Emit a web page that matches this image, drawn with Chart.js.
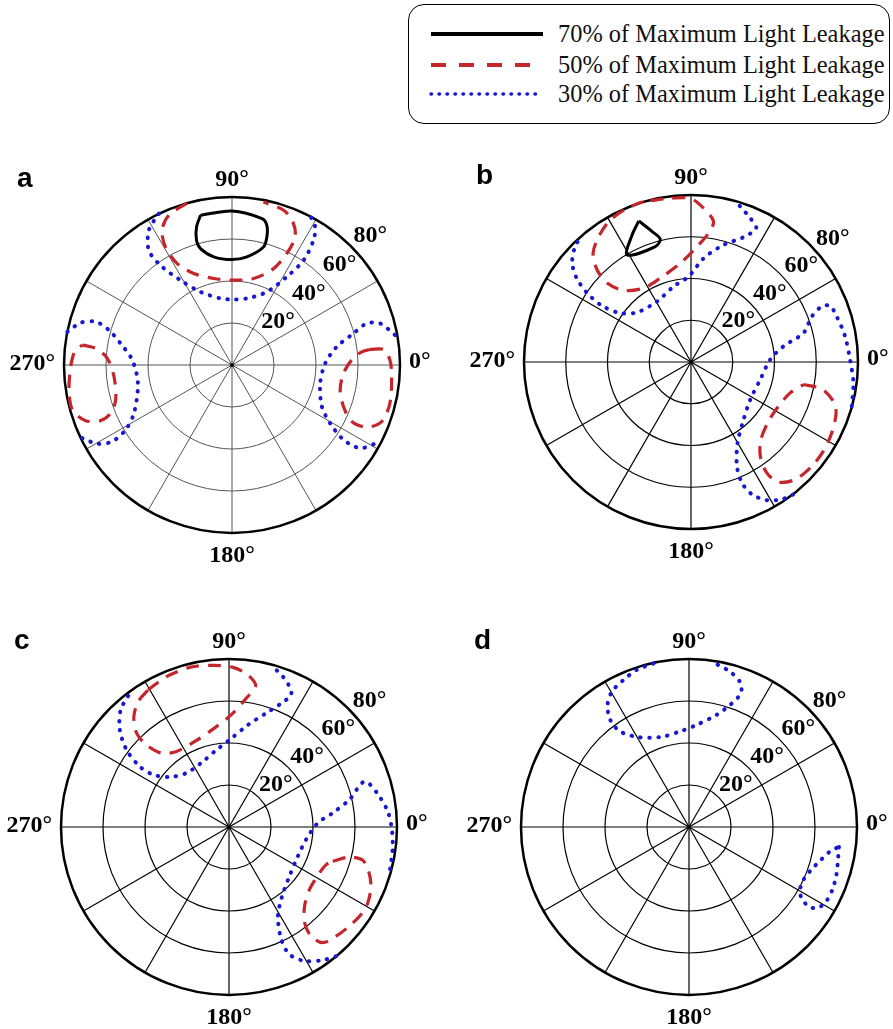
<!DOCTYPE html>
<html>
<head>
<meta charset="utf-8">
<script src="https://cdn.jsdelivr.net/npm/chart.js@4.4.1/dist/chart.umd.min.js"></script>
<style>
  html, body { margin: 0; padding: 0; background: #fff; }
  body { position: relative; width: 893px; height: 1029px; overflow: hidden;
         font-family: "Liberation Serif", "Times New Roman", serif; }
  canvas { position: absolute; }
  #legend { position: absolute; left: 408px; top: 4px; width: 482px; height: 120px;
            border: 1.6px solid #000; border-radius: 16px; box-sizing: border-box; }
  .row { position: absolute; left: 0; width: 100%; height: 26px; }
  .row svg { position: absolute; left: 20px; top: 0; }
  .row span { position: absolute; left: 149px; top: 0; line-height: 26px;
              font-size: 24.4px; white-space: nowrap; color: #111; }
</style>
</head>
<body>
<div id="legend"></div>
<canvas id="pa" width="446" height="430" style="left:0;top:150px"></canvas>
<canvas id="pb" width="447" height="430" style="left:446px;top:150px"></canvas>
<canvas id="pc" width="446" height="429" style="left:0;top:600px"></canvas>
<canvas id="pd" width="447" height="429" style="left:446px;top:600px"></canvas>
<script>
/* ── Data: contour points as [x, y] in projected degrees (x = θ·cosφ, y = θ·sinφ) ── */
const LEVELS      = ['70% of Maximum Light Leakage', '50% of Maximum Light Leakage', '30% of Maximum Light Leakage'];
const RINGS       = [20, 40, 60, 80];
const RING_LABELS = ['20°', '40°', '60°', '80°'];
const SPOKES      = [0, 30, 60, 90, 120, 150, 180, 210, 240, 270, 300, 330];
const AZ_DIRS     = [0, 90, 180, 270];
const AZ_LABELS   = ['0°', '90°', '270°', '180°'];
const PANELS      = ['a', 'b', 'c', 'd'];

// panel a
const A70       = [[-15.0,71.3],[0,73.3],[14.3,69.7],[16.6,66.5],[16.6,61.0],[15.0,56.2],[7.1,51.5],[0,50.2],[-8.7,51.5],[-15.0,55.4],[-16.9,59.4],[-16.9,65.7]];
const A50_TOP   = [[-21.4,77.1],[-30.1,71.3],[-33.3,64.2],[-31.7,56.2],[-26.1,48.3],[-18.2,43.6],[-8.7,41.2],[0,40.4],[10.3,41.2],[19.8,45.9],[26.1,53.1],[30.1,61.0],[29.0,68.1],[24.6,73.7],[15.0,77.6]];
const A50_RIGHT = [[65.7,7.4],[72.1,7.4],[75.2,2.4],[76.0,-5.5],[75.2,-18.2],[71.3,-26.9],[64.2,-29.6],[57.0,-26.9],[53.1,-19.8],[51.5,-11.9],[53.1,-4.0],[57.0,2.4],[61.8,6.3]];
const A50_LEFT  = [[-71.3,9.5],[-64.9,7.9],[-59.4,3.2],[-56.2,-5.5],[-55.4,-16.6],[-57.8,-23.0],[-62.6,-26.5],[-69.7,-26.5],[-76.0,-21.4],[-77.6,-11.9],[-76.8,-0.8],[-74.9,6.3]];
const A30_TOP   = [[-34.8,72.1],[-39.6,64.2],[-39.6,54.6],[-34.1,47.5],[-24.6,40.4],[-15.0,34.8],[-5.5,31.7],[0,31.2],[7.1,31.7],[16.6,34.8],[26.1,42.0],[34.1,49.9],[38.8,59.4],[39.6,65.7],[37.5,70.6]];
const A30_RIGHT = [[77.6,14.3],[70.5,19.8],[64.2,19.8],[57.8,15.0],[49.9,8.7],[44.4,0.8],[42.0,-8.7],[42.8,-19.8],[46.7,-27.7],[53.1,-35.6],[61.0,-39.6],[68.9,-37.2]];
const A30_LEFT  = [[-78.4,15.8],[-72.1,20.1],[-64.9,20.6],[-58.6,16.6],[-53.1,10.3],[-47.5,2.4],[-44.8,-8.7],[-46.7,-23.0],[-50.7,-30.9],[-57.0,-36.4],[-64.2,-37.5],[-71.3,-34.8]];

// panel b
const B70       = [[-25.0,67.6],[-18.6,62.5],[-14.7,58.8],[-17.1,55.3],[-30.6,51.3],[-28.2,60.9]];
const B50_TOP   = [[-19.4,77.3],[-9.9,78.4],[-0.3,78.4],[6.1,73.6],[10.8,67.3],[8.4,61.7],[2.9,55.3],[-5.1,47.3],[-14.7,40.2],[-22.6,35.4],[-32.2,34.3],[-40.2,37.8],[-45.0,44.2],[-46.9,52.1],[-44.2,60.1],[-38.6,68.1],[-30.6,73.6],[-24.2,76.4]];
const B30_TOP   = [[23.3,74.8],[28.4,68.9],[31.2,64.1],[25.2,59.8],[15.6,56.1],[6.1,49.7],[-1.1,41.0],[-8.3,36.2],[-16.3,29.0],[-25.8,23.8],[-33.8,23.4],[-42.6,26.9],[-49.7,33.0],[-54.8,40.2],[-56.9,47.3],[-55.8,54.5],[-52.4,60.9]];
const B30_RIGHT = [[77.0,-21.2],[77.8,-10.0],[76.2,1.1],[73.8,12.3],[69.8,21.8],[66.6,26.9],[62.6,26.6],[57.9,21.8],[53.9,13.9],[44.3,7.5],[37.9,1.1],[33.2,-8.4],[28.4,-18.0],[25.2,-27.6],[22.3,-38.7],[22.0,-49.9],[24.4,-57.9],[29.2,-63.4],[36.3,-66.2],[43.5,-65.8],[49.1,-63.4]];
const B50_RIGHT = [[53.9,-10.8],[62.6,-12.9],[68.2,-18.8],[69.5,-24.4],[67.4,-34.0],[63.4,-42.7],[57.9,-49.9],[49.9,-56.3],[41.9,-57.5],[36.3,-53.1],[33.2,-45.1],[33.5,-37.1],[37.1,-28.4],[41.9,-21.2],[47.5,-14.8]];

// panel c
const C50_TOP   = [[-38.5,65.3],[-29.8,71.6],[-18.7,76.0],[-7.6,77.0],[1.9,76.0],[9.0,72.4],[12.7,67.2],[8.2,61.3],[1.9,54.2],[-6.0,47.8],[-15.5,41.2],[-25.0,36.0],[-32.2,35.2],[-39.3,39.1],[-44.0,44.7],[-45.3,52.6],[-43.2,59.7]];
const C30_TOP   = [[-48.0,62.4],[-51.6,55.8],[-52.0,46.3],[-48.8,36.8],[-42.5,28.8],[-36.1,24.9],[-28.2,23.8],[-20.3,25.7],[-12.4,31.2],[-6.0,36.7],[0.3,41.5],[9.0,48.6],[17.7,54.2],[24.9,58.9],[29.6,62.9],[28.8,66.8],[25.7,71.6],[21.7,75.6]];
const C30_RIGHT = [[76.7,-20.0],[77.9,-10.8],[77.6,-1.3],[75.6,7.4],[71.6,14.6],[66.8,20.6],[64.0,21.4],[61.3,18.5],[57.3,13.0],[49.4,6.7],[42.3,1.9],[36.7,-6.0],[32.8,-13.9],[28.8,-23.4],[25.3,-32.9],[23.3,-42.5],[24.9,-53.5],[28.8,-60.7],[36.0,-63.8],[44.7,-63.4],[52.3,-61.1]];
const C50_RIGHT = [[49.4,-16.3],[57.3,-14.3],[63.7,-15.8],[66.5,-21.1],[67.6,-28.2],[66.1,-36.1],[62.9,-41.7],[57.3,-47.2],[51.0,-52.0],[44.7,-55.1],[39.1,-52.0],[36.0,-45.6],[36.0,-37.7],[38.3,-29.8],[43.1,-21.9],[46.3,-17.9]];

// panel d
const D30_TOP   = [[-16.9,77.9],[-24.9,74.8],[-31.2,70.0],[-36.7,64.5],[-38.8,58.1],[-37.5,51.0],[-32.8,45.5],[-24.1,42.8],[-13.8,42.8],[-4.3,45.5],[3.6,48.6],[13.1,53.4],[19.5,58.1],[23.4,61.8],[25.0,65.3],[24.2,69.2],[19.5,74.0],[13.1,77.6]];
const D30_RIGHT = [[71.4,-9.5],[71.0,-14.7],[70.2,-22.7],[68.3,-29.8],[65.4,-35.3],[61.5,-38.5],[57.2,-38.0],[54.0,-34.5],[52.7,-30.6],[54.6,-25.0],[58.3,-20.3],[63.0,-15.5],[67.8,-11.1]];

/* ── Styles ─────────────────────────────────────────────────────────────── */
const STYLE = {
  70: { color: '#000000', width: 3,   dash: [],         cap: 'butt' },
  50: { color: '#c4262c', width: 3.2, dash: [13, 9],    cap: 'butt' },
  30: { color: '#1818d0', width: 4,   dash: [0.5, 8.5], cap: 'round' },
};

function contour(pts, level, closed) {
  const s = STYLE[level];
  const data = pts.map(p => ({ x: p[0], y: p[1] }));
  if (closed) data.push({ x: pts[0][0], y: pts[0][1] });
  return {
    data, showLine: true, fill: false, pointRadius: 0, tension: 0.3,
    borderColor: s.color, borderWidth: s.width, borderDash: s.dash, borderCapStyle: s.cap,
  };
}

/* ── Polar grid + labels drawn through the linear scales ─────────────────── */
const polarGrid = {
  id: 'polarGrid',
  beforeDatasetsDraw(chart, args, o) {
    const { ctx, scales: { x, y } } = chart;
    const cx = x.getPixelForValue(0), cy = y.getPixelForValue(0);
    const R  = x.getPixelForValue(80) - cx;
    const px = (deg, r) => [x.getPixelForValue(r * Math.cos(deg * Math.PI / 180)),
                            y.getPixelForValue(r * Math.sin(deg * Math.PI / 180))];
    ctx.save();
    ctx.strokeStyle = o.gridColor;
    ctx.lineWidth = o.gridWidth;
    RINGS.slice(0, -1).forEach(v => {
      ctx.beginPath();
      ctx.arc(cx, cy, x.getPixelForValue(v) - cx, 0, Math.PI * 2);
      ctx.stroke();
    });
    SPOKES.forEach(a => {
      const [ex, ey] = px(a, 80);
      ctx.beginPath(); ctx.moveTo(cx, cy); ctx.lineTo(ex, ey); ctx.stroke();
    });
    ctx.fillStyle = '#000';
    ctx.beginPath(); ctx.arc(cx, cy, 2, 0, Math.PI * 2); ctx.fill();
    ctx.strokeStyle = '#000';
    ctx.lineWidth = 2.5;
    ctx.beginPath(); ctx.arc(cx, cy, R, 0, Math.PI * 2); ctx.stroke();

    // ring labels
    ctx.font = 'bold 24px "Liberation Serif", serif';
    ctx.textAlign = 'center'; ctx.textBaseline = 'middle';
    RINGS.forEach((v, i) => {
      const [lx, ly] = px(o.labelAngle, v + 10);
      ctx.fillText(RING_LABELS[i], lx, ly);
    });

    // azimuth labels
    AZ_DIRS.forEach((d, i) => {
      const t = AZ_LABELS[i];
      if (d === 0)        { ctx.textAlign = 'left';   ctx.textBaseline = 'middle';     ctx.fillText(t, cx + R + 9, cy - 3); }
      else if (d === 90)  { ctx.textAlign = 'center'; ctx.textBaseline = 'alphabetic'; ctx.fillText(t, cx, cy - R - 11); }
      else if (d === 180) { ctx.textAlign = 'right';  ctx.textBaseline = 'middle';     ctx.fillText(t, cx - R - 9, cy - 1); }
      else                { ctx.textAlign = 'center'; ctx.textBaseline = 'alphabetic'; ctx.fillText(t, cx, cy + R + 29); }
    });

    // panel letter
    ctx.font = 'bold 28px "Liberation Sans", Arial, sans-serif';
    ctx.textAlign = 'left'; ctx.textBaseline = 'alphabetic';
    ctx.fillText(o.letter, cx - 215, cy - 178);
    ctx.restore();
  },
};

function makePanel(id, letter, cx, cy, R, datasets, gridColor, labelAngle) {
  const cv = document.getElementById(id);
  const left = cv.offsetLeft, top = cv.offsetTop;
  const padding = {
    left: cx - R - left, top: cy - R - top,
    right: left + cv.width - (cx + R), bottom: top + cv.height - (cy + R),
  };
  new Chart(cv.getContext('2d'), {
    type: 'scatter',
    data: { datasets },
    options: {
      responsive: false, animation: false, devicePixelRatio: 1, events: [],
      layout: { padding },
      scales: {
        x: { type: 'linear', min: -80, max: 80, display: false },
        y: { type: 'linear', min: -80, max: 80, display: false },
      },
      plugins: {
        legend: { display: false }, tooltip: { enabled: false },
        polarGrid: { letter, gridColor, gridWidth: gridColor === '#000' ? 1.2 : 1, labelAngle },
      },
    },
    plugins: [polarGrid],
  });
}

makePanel('pa', PANELS[0], 232, 365, 168, [
  contour(A30_TOP, 30), contour(A30_RIGHT, 30), contour(A30_LEFT, 30),
  contour(A50_TOP, 50), contour(A50_RIGHT, 50, true), contour(A50_LEFT, 50, true),
  contour(A70, 70, true),
], '#555', 43);

makePanel('pb', PANELS[1], 691, 362, 167, [
  contour(B30_TOP, 30), contour(B30_RIGHT, 30),
  contour(B50_TOP, 50, true), contour(B50_RIGHT, 50, true),
  contour(B70, 70, true),
], '#000', 41);

makePanel('pc', PANELS[2], 229, 827, 168, [
  contour(C30_TOP, 30), contour(C30_RIGHT, 30),
  contour(C50_TOP, 50, true), contour(C50_RIGHT, 50, true),
], '#000', 42);

makePanel('pd', PANELS[3], 689, 827, 168, [
  contour(D30_TOP, 30), contour(D30_RIGHT, 30, true),
], '#000', 42);

/* ── Legend ─────────────────────────────────────────────────────────────── */
const legend = document.getElementById('legend');
const ROW_Y = [16, 47, 76];
[70, 50, 30].forEach((lv, i) => {
  const s = STYLE[lv];
  const row = document.createElement('div');
  row.className = 'row';
  row.style.top = ROW_Y[i] + 'px';
  const dash = lv === 50 ? '15 13' : lv === 30 ? '0.5 7.5' : 'none';
  const cap = lv === 30 ? 'round' : 'butt';
  const w = lv === 30 ? 3.5 : 4;
  row.innerHTML =
    `<svg width="118" height="26"><line x1="2" y1="13" x2="114" y2="13" stroke="${s.color}" stroke-width="${w}" stroke-dasharray="${dash}" stroke-linecap="${cap}"/></svg>` +
    `<span>${LEVELS[i]}</span>`;
  legend.appendChild(row);
});
</script>
</body>
</html>
